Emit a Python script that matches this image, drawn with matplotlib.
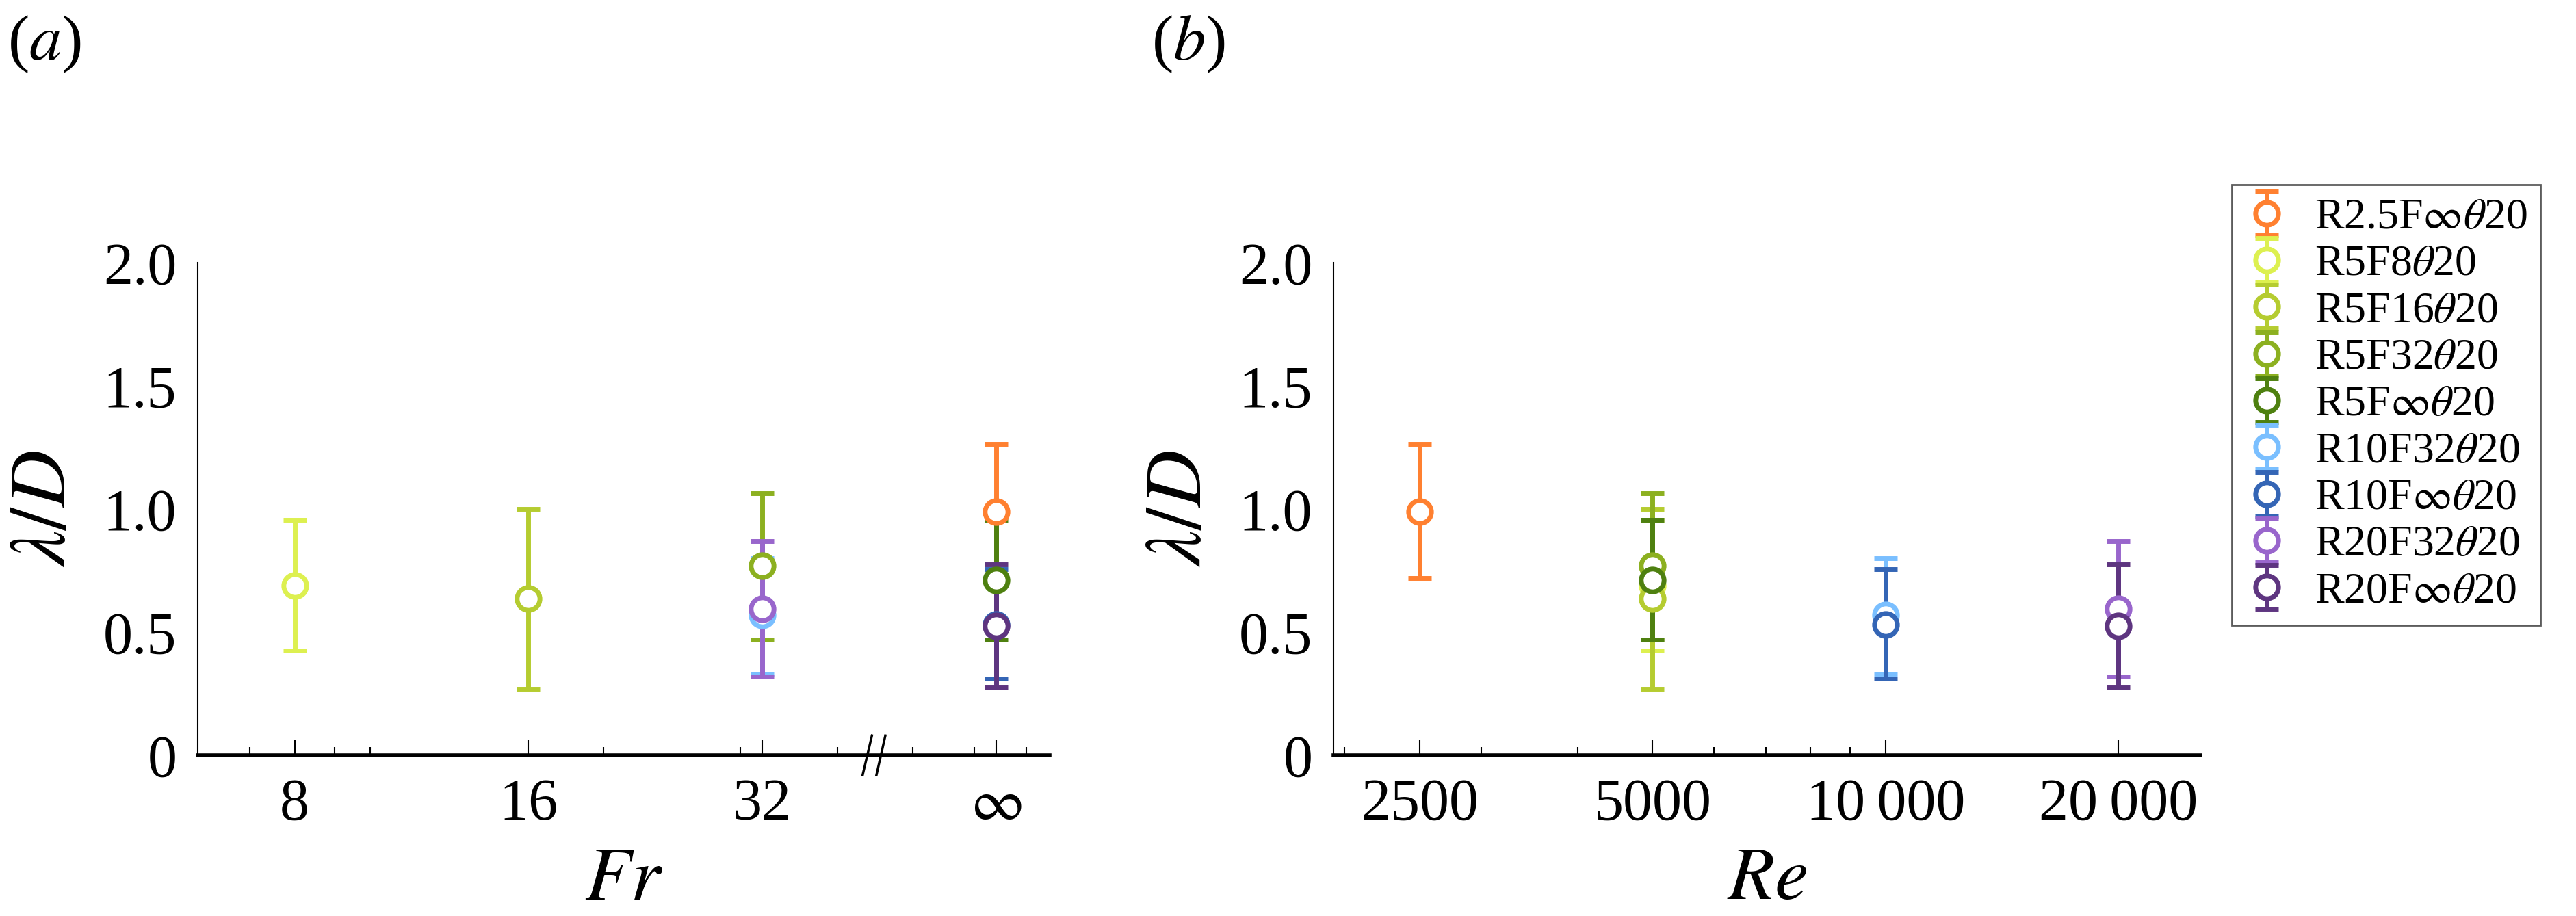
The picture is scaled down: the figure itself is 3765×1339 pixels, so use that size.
import matplotlib
matplotlib.use("Agg")
import matplotlib.pyplot as plt
import numpy as np
from matplotlib.ticker import FixedLocator, NullFormatter

plt.rcParams['font.family'] = ['Liberation Serif', 'DejaVu Serif']
plt.rcParams['mathtext.fontset'] = 'stix'

names = ["R2.5F∞θ20", "R5F8θ20", "R5F16θ20", "R5F32θ20", "R5F∞θ20",
         "R10F32θ20", "R10F∞θ20", "R20F32θ20", "R20F∞θ20"]
labels = [r"R2.5F$\infty\theta$20", r"R5F8$\theta$20", r"R5F16$\theta$20", r"R5F32$\theta$20",
          r"R5F$\infty\theta$20", r"R10F32$\theta$20", r"R10F$\infty\theta$20",
          r"R20F32$\theta$20", r"R20F$\infty\theta$20"]
Re = [2500, 5000, 5000, 5000, 5000, 10000, 10000, 20000, 20000]
Fr = [np.inf, 8, 16, 32, np.inf, 32, np.inf, 32, np.inf]
lam = [0.99, 0.69, 0.635, 0.77, 0.71, 0.57, 0.53, 0.595, 0.525]
lo = [0.72, 0.425, 0.27, 0.47, 0.47, 0.33, 0.31, 0.32, 0.275]
hi = [1.265, 0.955, 1.0, 1.065, 0.955, 0.80, 0.755, 0.87, 0.775]
colors = ["#FF8030", "#DDF050", "#B5CC30", "#8CB020", "#4E8010",
          "#7ABFFF", "#3465B5", "#9966CC", "#5E3580"]

INF_POS = 64.0
fr_ticks = [8, 16, 32, INF_POS]
fr_ticklabels = ["8", "16", "32", r"$\infty$"]
re_ticks = [2500, 5000, 10000, 20000]
re_ticklabels = ["2500", "5000", "10\u2009000", "20\u2009000"]

fig = plt.figure(figsize=(37.66, 13.39), dpi=100)
axa = fig.add_axes([0.0767, 0.1755, 0.3306, 0.5377])
axb = fig.add_axes([0.5175, 0.1755, 0.3364, 0.5377])

kw = dict(fmt='o', mfc='white', ms=24, mew=5, elinewidth=5, capsize=12, capthick=5)
handles = []
for i in range(len(names)):
    xa = INF_POS if np.isinf(Fr[i]) else Fr[i]
    yerr = [[lam[i] - lo[i]], [hi[i] - lam[i]]]
    axa.errorbar([xa], [lam[i]], yerr=yerr, color=colors[i], **kw)
    h = axb.errorbar([Re[i]], [lam[i]], yerr=yerr, color=colors[i], label=labels[i], **kw)
    handles.append(h)

for ax in (axa, axb):
    ax.set_xscale('log')
    ax.set_ylim(0, 2.0)
    ax.set_yticks([0, 0.5, 1.0, 1.5, 2.0])
    ax.set_yticklabels(["0", "0.5", "1.0", "1.5", "2.0"])
    ax.spines['top'].set_visible(False)
    ax.spines['right'].set_visible(False)
    ax.spines['left'].set_linewidth(1.5)
    ax.spines['bottom'].set_linewidth(4)
    ax.tick_params(direction='in', which='major', length=16, width=1.5, labelsize=62, pad=24)
    ax.tick_params(direction='in', which='minor', length=9, width=1.5)
    ax.tick_params(axis='y', which='both', length=0, pad=22)
    ax.set_ylabel(r"$\lambda/D$", fontsize=84, labelpad=22)

axa.set_xlim(6, 75)
axa.xaxis.set_major_locator(FixedLocator(fr_ticks))
axa.set_xticklabels(fr_ticklabels)
axa.xaxis.set_minor_locator(FixedLocator([7, 9, 10, 20, 30, 40, 50, 60, 70]))
axa.xaxis.set_minor_formatter(NullFormatter())
axa.set_xlabel(r"$Fr$", fontsize=80, labelpad=15)
xb = 44.6
for dx in (-0.9, 0.9):
    axa.plot([xb + dx - 0.6, xb + dx + 0.6], [-0.08, 0.08], color='black', lw=2.5,
             clip_on=False, transform=axa.transData)

axb.set_xlim(1934, 25500)
axb.xaxis.set_major_locator(FixedLocator(re_ticks))
axb.set_xticklabels(re_ticklabels)
axb.xaxis.set_minor_formatter(NullFormatter())
axb.set_xlabel(r"$Re$", fontsize=80, labelpad=15)

fig.text(0.003, 0.985, r"($a$)", fontsize=68, va='top')
fig.text(0.447, 0.985, r"($b$)", fontsize=68, va='top')

leg = fig.legend(handles=handles, loc='upper right', bbox_to_anchor=(0.9945, 0.822),
                 fontsize=46, frameon=True, fancybox=False, edgecolor='#333333',
                 handlelength=1.0, handletextpad=0.6, labelspacing=0.15, borderpad=0.3)
leg.get_frame().set_linewidth(2)

fig.savefig("out.png", dpi=100)
